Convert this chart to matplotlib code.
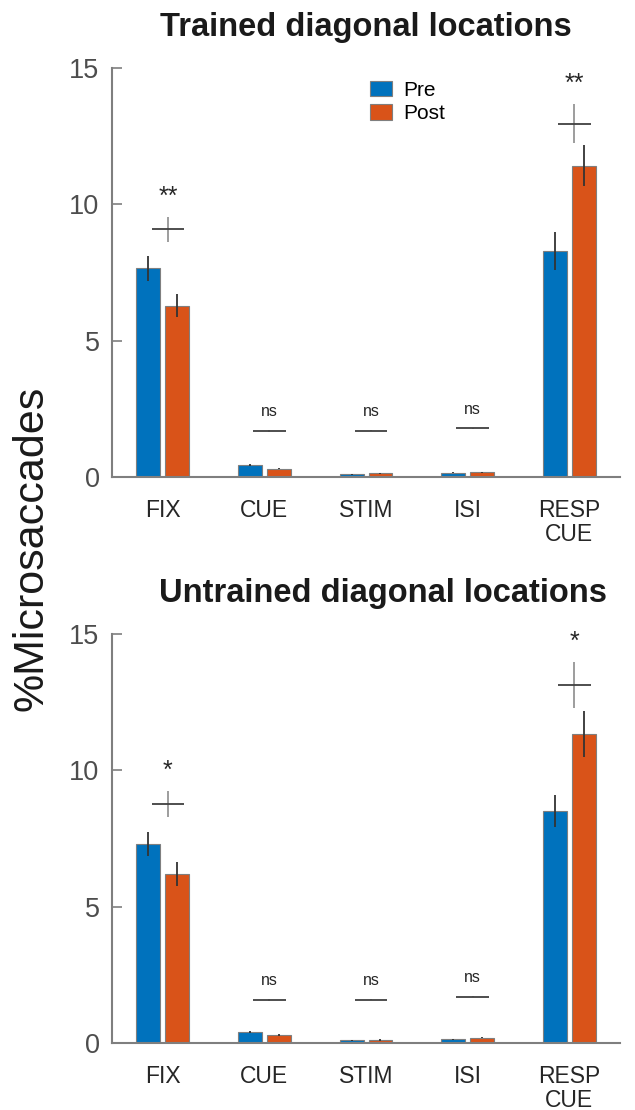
import numpy as np
import matplotlib.pyplot as plt

plt.rcParams['font.family'] = ['Liberation Sans', 'DejaVu Sans']

# categories / conditions
categories = ['FIX', 'CUE', 'STIM', 'ISI', 'RESP\nCUE']
titles = ['Trained diagonal locations', 'Untrained diagonal locations']

# trained diagonal locations (% microsaccades, mean and sem)
trained_pre = [7.65, 0.45, 0.10, 0.16, 8.30]
trained_pre_err = [0.45, 0.04, 0.02, 0.02, 0.70]
trained_post = [6.28, 0.31, 0.14, 0.17, 11.42]
trained_post_err = [0.42, 0.03, 0.02, 0.02, 0.74]
trained_diff = [9.08, 1.69, 1.69, 1.78, 12.96]
trained_diff_err = [0.45, 0.03, 0.02, 0.02, 0.70]
trained_sig = ['**', 'ns', 'ns', 'ns', '**']

# untrained diagonal locations
untrained_pre = [7.29, 0.40, 0.10, 0.13, 8.51]
untrained_pre_err = [0.45, 0.04, 0.02, 0.02, 0.60]
untrained_post = [6.19, 0.30, 0.11, 0.20, 11.32]
untrained_post_err = [0.45, 0.04, 0.02, 0.03, 0.84]
untrained_diff = [8.76, 1.58, 1.58, 1.69, 13.13]
untrained_diff_err = [0.47, 0.03, 0.02, 0.02, 0.83]
untrained_sig = ['*', 'ns', 'ns', 'ns', '*']

blue = '#0072BD'
orange = '#D95319'

fig = plt.figure(figsize=(6.35, 11.1), dpi=100)
ax1 = fig.add_axes([0.1764, 0.5703, 0.800, 0.3685])
ax2 = fig.add_axes([0.1764, 0.0604, 0.800, 0.3685])

panels = [
    (ax1, trained_pre, trained_pre_err, trained_post, trained_post_err,
     trained_diff, trained_diff_err, trained_sig),
    (ax2, untrained_pre, untrained_pre_err, untrained_post, untrained_post_err,
     untrained_diff, untrained_diff_err, untrained_sig),
]
title_x = [0.5, 0.533]

x = np.arange(1, len(categories) + 1)
w = 0.235
off = 0.142

for i, (ax, pre, pre_e, post, post_e, diff, diff_e, sig) in enumerate(panels):
    ax.bar(x - off, pre, w, color=blue, edgecolor='#7f7f7f', linewidth=0.8, label='Pre', zorder=2)
    ax.bar(x + off, post, w, color=orange, edgecolor='#7f7f7f', linewidth=0.8, label='Post', zorder=2)
    ax.errorbar(x - off, pre, yerr=pre_e, fmt='none', ecolor='#333333', elinewidth=1.3, capsize=0, zorder=3)
    ax.errorbar(x + off, post, yerr=post_e, fmt='none', ecolor='#333333', elinewidth=1.3, capsize=0, zorder=3)

    # difference marker (cross) + significance
    cx = x + 0.05
    ax.errorbar(cx, diff, yerr=diff_e, fmt='none', ecolor='#8c8c8c', elinewidth=1.2, capsize=0, zorder=3)
    ax.hlines(diff, cx - 0.16, cx + 0.16, color='#404040', linewidth=1.3, zorder=4)
    for j in range(len(x)):
        top = diff[j] + diff_e[j]
        if sig[j] == 'ns':
            ax.text(cx[j], top + 0.52, sig[j], ha='center', va='baseline', fontsize=11.5, color='#262626')
        else:
            ax.text(cx[j], top + 0.5, sig[j], ha='center', va='baseline', fontsize=18, color='#262626')

    ax.set_xlim(0.5, 5.5)
    ax.set_ylim(0, 15)
    ax.set_yticks([0, 5, 10, 15])
    ax.set_xticks(x)
    ax.set_xticklabels(categories, fontsize=16.5, color='#262626', linespacing=1.05)
    ax.tick_params(axis='y', direction='in', length=7, width=1.2, color='#7f7f7f',
                   labelsize=19.5, labelcolor='#4d4d4d', pad=9)
    ax.tick_params(axis='x', length=0, pad=16)
    for s in ['top', 'right']:
        ax.spines[s].set_visible(False)
    for s in ['left', 'bottom']:
        ax.spines[s].set_color('#7f7f7f')
        ax.spines[s].set_linewidth(1.5)
    ax.set_title(titles[i], fontsize=23.5, fontweight='bold', color='#1a1a1a', pad=23, x=title_x[i])

ax1.legend(loc='upper left', bbox_to_anchor=(0.47, 1.015), frameon=False, fontsize=15,
           handlelength=1.1, handleheight=0.8, handletextpad=0.5, labelspacing=0.2)

fig.text(0.049, 0.506, '%Microsaccades', rotation=90, ha='center', va='center', fontsize=31, color='#1a1a1a')

fig.savefig('out.png', dpi=100)
